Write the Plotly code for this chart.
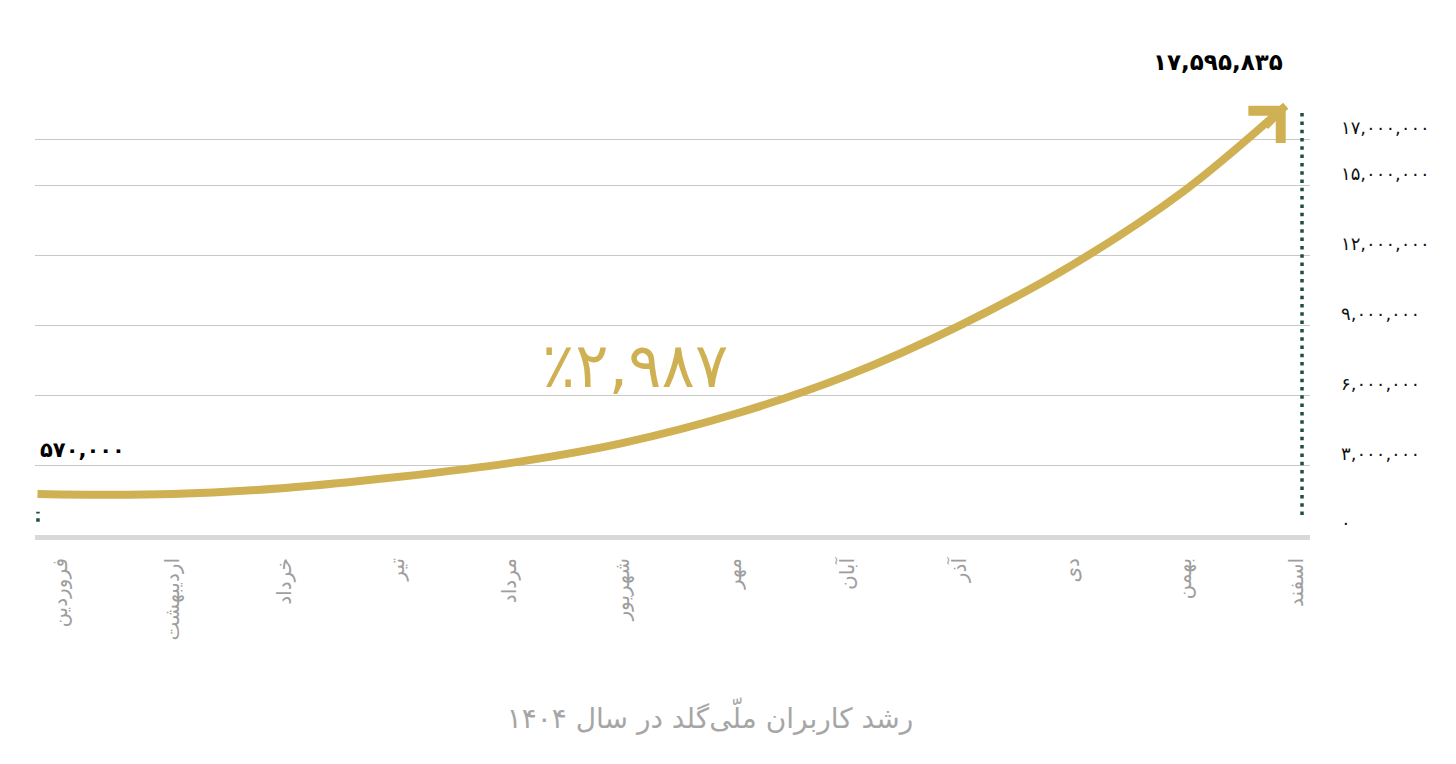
import plotly.graph_objects as go

# ---- data ----
months = ["فروردین", "اردیبهشت", "خرداد", "تیر", "مرداد", "شهریور",
          "مهر", "آبان", "آذر", "دی", "بهمن", "اسفند"]
month_pos = list(range(12))

y_tick_vals = [0, 3_000_000, 6_000_000, 9_000_000, 12_000_000, 15_000_000, 17_000_000]
y_tick_text = ["۰", "۳,۰۰۰,۰۰۰", "۶,۰۰۰,۰۰۰", "۹,۰۰۰,۰۰۰", "۱۲,۰۰۰,۰۰۰", "۱۵,۰۰۰,۰۰۰", "۱۷,۰۰۰,۰۰۰"]

# decorative growth curve (month index, users)
curve_x = [-0.2, 0, 1, 2, 3, 4, 5, 6, 7, 8, 9, 10, 10.9]
curve_y = [1_760_000, 1_740_000, 1_760_000, 2_020_000, 2_490_000, 3_090_000, 3_950_000,
           5_200_000, 6_850_000, 9_000_000, 11_600_000, 14_800_000, 18_450_000]

# dotted guides (start and end values)
start_guide_x = [-0.196, -0.196]
start_guide_y = [570_000, 1_000_000]
end_guide_x = [11.045, 11.045]
end_guide_y = [860_000, 18_200_000]

start_label = "۵۷۰,۰۰۰"
end_label = "۱۷,۵۹۵,۸۳۵"
growth_label = "٪۲,۹۸۷"
title_text = "رشد کاربران ملّی‌گلد در سال ۱۴۰۴"

GOLD = "#cfb052"
GREEN = "#1f5138"
FONT = "DejaVu Sans"

fig = go.Figure()

fig.add_trace(go.Scatter(
    x=start_guide_x, y=start_guide_y, mode="lines",
    line=dict(color=GREEN, width=3.5, dash="3.5px,4.8px"), hoverinfo="skip", showlegend=False))
fig.add_trace(go.Scatter(
    x=end_guide_x, y=end_guide_y, mode="lines",
    line=dict(color=GREEN, width=3.5, dash="3.5px,4.8px"), hoverinfo="skip", showlegend=False))

fig.add_trace(go.Scatter(
    x=curve_x, y=curve_y, mode="lines",
    line=dict(color=GOLD, width=8, shape="spline", smoothing=1.0),
    hoverinfo="skip", showlegend=False))

# arrow head at curve end (wide line-drawn chevron)
fig.add_annotation(x=curve_x[-1], y=curve_y[-1], xref="x", yref="y",
                   text="", showarrow=True, arrowhead=4, arrowsize=1.1,
                   arrowwidth=8, arrowcolor=GOLD, ax=-22, ay=22, standoff=0)

fig.add_annotation(x=curve_x[0], y=3_650_000, xref="x", yref="y", text=start_label,
                   showarrow=False, xanchor="left", yanchor="middle",
                   font=dict(family=FONT, size=21, color="#000000", weight="bold"))
fig.add_annotation(x=10.3, y=1.0419, xref="x", yref="paper", text=end_label,
                   showarrow=False, xanchor="center", yanchor="middle",
                   font=dict(family=FONT, size=23, color="#000000", weight="bold"))
fig.add_annotation(x=5.11, y=7_300_000, xref="x", yref="y", text=growth_label,
                   showarrow=False, xanchor="center", yanchor="middle",
                   font=dict(family=FONT, size=62, color=GOLD))

fig.update_layout(
    width=1456, height=764,
    margin=dict(l=35, r=146, t=81, b=229),
    paper_bgcolor="white", plot_bgcolor="white",
    showlegend=False,
    title=dict(text=title_text, x=0.4876, xanchor="center", y=0.06, yanchor="middle",
               font=dict(family=FONT, size=28, color="#a6a6a6")),
    xaxis=dict(range=[-0.2223, 11.116], tickmode="array", tickvals=month_pos, ticktext=months,
               tickangle=-90, showgrid=False, zeroline=False,
               showline=True, linecolor="#d9d9d9", linewidth=5, ticks="",
               ticklabelstandoff=10,
               tickfont=dict(family=FONT, size=20, color="#9e9e9e")),
    yaxis=dict(range=[0, 19_510_000], side="right", tickmode="array",
               tickvals=y_tick_vals, ticktext=y_tick_text,
               showgrid=True, gridcolor="#c8c8c8", gridwidth=1, zeroline=False,
               showline=False, ticks="", ticklabelstandoff=30, ticklabelshift=-12,
               tickfont=dict(family=FONT, size=18, color="#111111")),
)

fig.write_html("out.html")
